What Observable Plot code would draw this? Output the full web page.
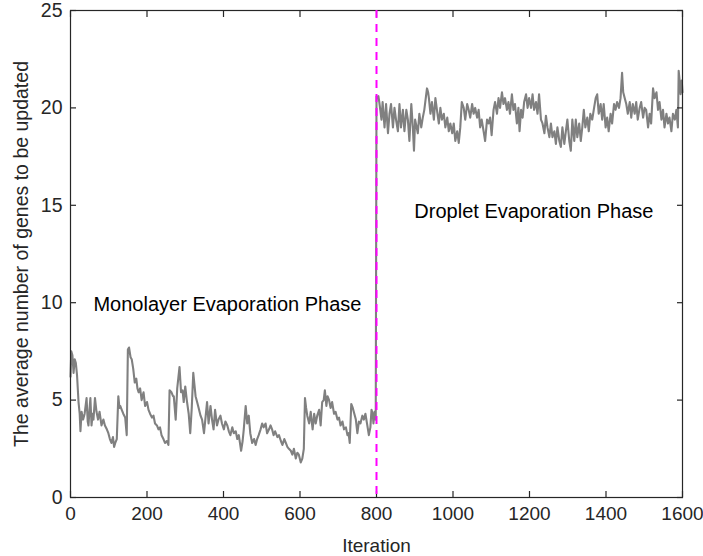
<!DOCTYPE html>
<html>
<head>
<meta charset="utf-8">
<script src="https://cdn.jsdelivr.net/npm/d3@7"></script>
<script src="https://cdn.jsdelivr.net/npm/@observablehq/plot@0.6"></script>
<style>
  html, body { margin: 0; padding: 0; background: #fff; }
</style>
</head>
<body>
<div id="chart"></div>
<script>
// ---- data ----
const iteration = [
  0,2,5,8,11,14,17,21,24,26,29,33,37,42,45,47,50,52,55,58,60,64,68,72,76,81,86,90,95,99,
  103,107,111,114,117,121,125,128,130,134,138,143,147,150,153,157,160,164,168,172,175,178,182,186,191,195,
  200,204,208,213,217,221,226,230,234,238,243,247,252,256,259,264,268,270,275,279,285,289,293,296,
  300,304,309,313,317,321,324,327,331,335,340,344,349,353,357,361,366,370,374,378,383,387,392,396,
  401,405,410,414,418,423,427,432,436,440,443,446,450,453,458,462,466,470,475,480,484,488,492,497,
  501,505,510,514,519,523,527,531,535,541,545,550,554,559,563,567,571,576,580,584,589,593,597,
  602,606,610,613,616,619,624,628,633,637,641,645,650,654,658,662,665,669,672,676,680,684,689,693,698,
  702,706,711,715,720,724,727,730,734,738,742,746,750,754,758,763,767,771,776,780,784,787,790,792,795,798,
  800,802,805,808,813,816,821,825,830,834,838,843,847,851,856,860,864,869,873,878,882,886,891,895,898,
  901,905,908,912,917,921,925,930,932,935,937,941,945,950,954,958,963,967,971,976,980,985,989,993,998,
  1002,1006,1011,1015,1019,1023,1028,1032,1037,1041,1045,1050,1054,1058,1063,1067,1071,1075,1080,1084,1089,1093,1097,
  1101,1106,1110,1115,1119,1123,1128,1132,1136,1141,1145,1149,1154,1158,1162,1167,1171,1174,1178,1182,1186,1191,1195,1199,
  1204,1208,1212,1217,1221,1225,1230,1234,1239,1243,1247,1252,1256,1260,1265,1269,1273,1278,1282,1286,1291,1295,1299,
  1304,1308,1312,1317,1321,1325,1330,1334,1338,1342,1346,1351,1355,1359,1364,1368,1373,1377,1381,1386,1390,1394,1399,
  1403,1407,1412,1416,1421,1425,1429,1434,1438,1442,1445,1449,1453,1457,1462,1466,1470,1475,1479,1483,1488,1492,1497,
  1501,1505,1510,1514,1518,1523,1527,1532,1536,1540,1545,1549,1553,1558,1562,1566,1571,1575,1580,1584,1588,1590,1593,1595,1598,1600
];
const genesToUpdate = [
  6.2,7.5,7.3,6.4,7.1,6.9,6.3,4.9,4.3,3.4,4.4,4.0,4.3,5.1,3.9,3.7,4.6,5.1,3.7,4.3,4.0,5.1,4.4,4.0,4.4,3.7,4.0,3.7,3.5,3.3,
  3.0,2.8,3.1,2.6,2.8,3.0,5.2,4.6,4.7,4.5,4.3,4.1,3.2,7.6,7.7,7.2,7.1,6.6,5.9,6.1,5.6,5.4,5.6,5.0,5.4,4.7,
  4.9,4.5,4.3,4.1,4.2,3.8,3.7,3.5,3.6,3.2,3.0,2.8,2.9,2.7,5.5,5.4,5.2,5.2,4.0,5.6,6.7,5.4,5.5,4.9,
  5.7,5.0,4.3,3.3,4.6,6.4,5.8,5.2,4.9,4.6,4.2,4.0,3.3,4.1,4.9,3.8,4.7,4.0,3.5,4.5,3.7,4.0,4.2,3.8,
  3.5,3.9,3.7,3.4,3.2,3.6,3.3,3.4,3.0,3.2,2.8,2.4,2.9,3.5,4.7,3.8,4.2,3.3,2.8,3.0,2.7,3.0,3.2,3.5,
  3.8,3.6,3.8,3.3,3.5,3.7,3.5,3.2,3.4,3.1,3.2,2.9,2.7,3.0,2.8,2.6,2.5,2.4,2.2,2.5,2.0,2.3,2.2,
  1.8,2.0,2.5,5.1,4.6,4.2,3.8,4.4,3.5,4.3,3.8,4.2,4.5,3.7,4.9,5.0,5.5,4.7,5.2,5.0,4.6,4.9,4.3,4.4,4.0,
  4.1,3.7,3.9,3.5,3.6,3.2,3.3,2.8,4.8,4.6,4.3,4.0,3.3,3.9,3.8,4.2,4.0,4.3,3.7,3.2,3.6,4.5,4.3,3.8,4.4,4.0,
  20.6,20.5,20.6,20.2,19.4,20.3,19.0,20.2,18.7,19.7,20.2,19.0,20.0,19.4,18.8,20.2,19.0,19.9,18.8,19.9,19.4,18.3,20.2,19.0,17.8,
  19.4,19.0,18.7,19.7,19.0,19.5,19.9,20.7,21.0,20.8,20.5,19.7,20.3,19.4,20.5,19.9,19.2,20.0,19.4,19.7,19.0,19.5,18.8,19.2,18.7,
  19.2,18.3,18.8,18.2,19.0,20.3,20.0,19.4,20.2,19.9,19.5,20.2,19.7,20.0,19.5,19.9,19.0,19.4,18.8,18.3,19.4,19.2,19.5,
  18.6,19.9,20.3,19.7,20.5,20.0,20.8,20.2,20.5,19.9,20.3,19.7,20.7,19.9,20.2,19.2,20.0,18.8,19.9,19.5,20.3,20.7,20.0,20.5,
  20.0,20.7,19.9,20.3,19.7,20.7,19.4,19.2,18.7,19.6,19.0,18.5,19.2,18.5,18.8,18.15,19.0,18.3,18.0,19.0,18.15,18.8,19.4,
  18.3,17.8,19.4,18.3,19.4,18.5,19.2,18.3,19.0,19.9,19.0,19.5,18.8,19.7,19.4,19.9,20.5,20.7,19.7,20.2,19.4,20.2,19.0,
  19.5,18.8,19.7,19.2,20.2,19.9,20.3,20.0,20.5,21.8,20.8,20.5,20.2,19.7,20.3,19.5,20.2,19.7,20.3,19.4,20.0,20.3,19.5,
  20.0,19.9,19.0,19.7,19.2,21.0,20.5,20.8,19.9,20.3,19.4,19.9,19.0,19.7,19.2,19.5,18.8,19.7,19.4,19.9,19.0,21.9,21.3,20.7,21.4,20.8
];
const phaseBoundary = [800];
const phaseNames = ["Monolayer Evaporation Phase", "Droplet Evaporation Phase"];
const phaseLabelX = [60, 899];
const phaseLabelY = [9.9, 14.7];
const xTicks = [0, 200, 400, 600, 800, 1000, 1200, 1400, 1600];
const yTicks = [0, 5, 10, 15, 20, 25];
const xTitle = "Iteration";
const yTitle = "The average number of genes to be updated";

// ---- build tables ----
const series = iteration.map((it, i) => ({iteration: it, genes: genesToUpdate[i]}));
const phases = phaseNames.map((name, i) => ({name, x: phaseLabelX[i], y: phaseLabelY[i]}));

const axisColor = "#262626";
const noText = () => "";
const plain = d => String(d);

const chart = Plot.plot({
  width: 703,
  height: 556,
  marginLeft: 70,
  marginRight: 21,
  marginTop: 10,
  marginBottom: 59,
  style: {
    fontFamily: "'Liberation Sans', Arial, Helvetica, sans-serif",
    fontSize: "20px",
    color: axisColor,
    background: "#ffffff",
    overflow: "visible"
  },
  x: {domain: [0, 1600]},
  y: {domain: [0, 25]},
  marks: [
    Plot.line(series, {x: "iteration", y: "genes", stroke: "#808080", strokeWidth: 2.1}),
    Plot.text(phases, {x: "x", y: "y", text: "name", textAnchor: "start", fill: "#000000", fontSize: 20}),
    Plot.frame({stroke: axisColor, strokeWidth: 1.2}),
    // tick labels + titles
    Plot.axisX(xTicks, {anchor: "bottom", tickSize: 0, tickPadding: 9, tickFormat: plain, label: xTitle, labelAnchor: "center", labelOffset: 54, labelArrow: "none", fontSize: 19}),
    Plot.axisY(yTicks, {anchor: "left", tickSize: 0, tickPadding: 8, tickFormat: plain, label: yTitle, labelAnchor: "center", labelOffset: 56, labelArrow: "none", fontSize: 19.5}),
    // inward tick marks on all four sides
    Plot.axisX(xTicks, {anchor: "bottom", tickSize: 6, dy: -6, tickFormat: noText, label: null, stroke: axisColor, strokeWidth: 1.2}),
    Plot.axisX(xTicks, {anchor: "top", tickSize: 6, dy: 6, tickFormat: noText, label: null, stroke: axisColor, strokeWidth: 1.2}),
    Plot.axisY(yTicks, {anchor: "left", tickSize: 6, dx: 6, tickFormat: noText, label: null, stroke: axisColor, strokeWidth: 1.2}),
    Plot.axisY(yTicks, {anchor: "right", tickSize: 6, dx: -6, tickFormat: noText, label: null, stroke: axisColor, strokeWidth: 1.2}),
    // phase boundary drawn on top
    Plot.ruleX(phaseBoundary, {x: d => d, stroke: "#FF00FF", strokeWidth: 2, strokeDasharray: "8,6"})
  ]
});

document.getElementById("chart").appendChild(chart);
</script>
</body>
</html>
